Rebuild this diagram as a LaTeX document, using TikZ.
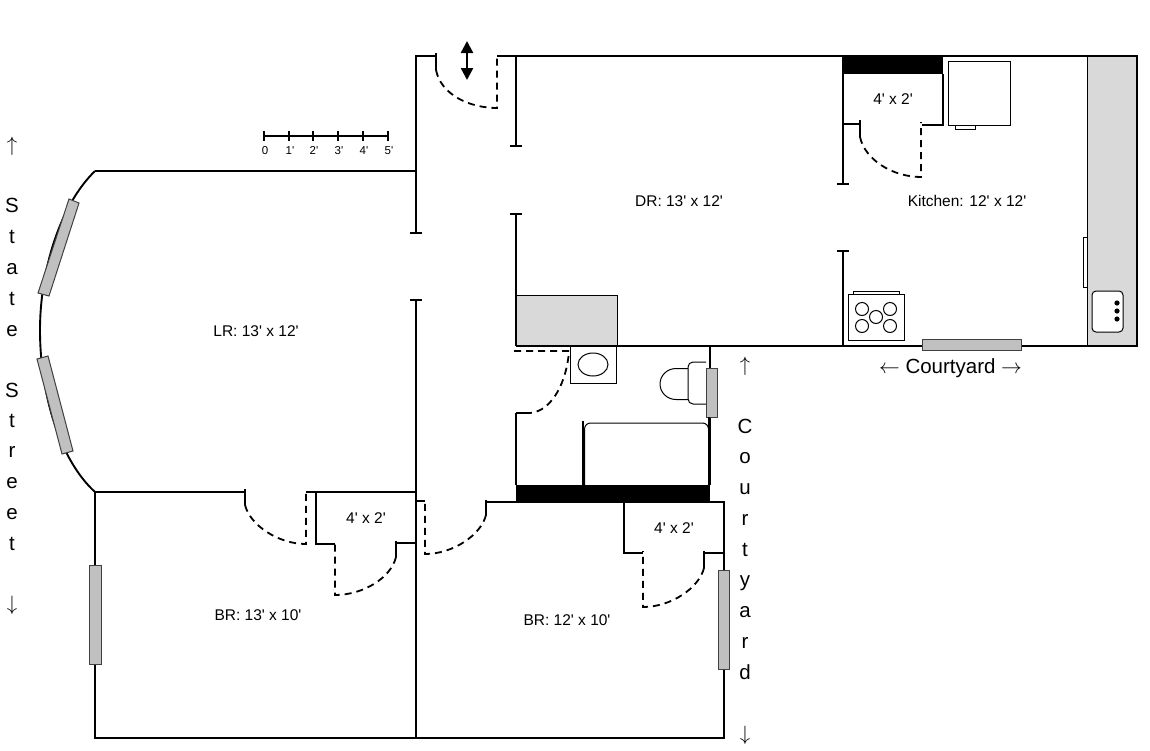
\documentclass[tikz,border=0pt]{standalone}
\usepackage{fontspec}
\usetikzlibrary{arrows.meta}
\newfontfamily\planfont{Liberation Sans}
\definecolor{countergray}{RGB}{217,217,217}
\definecolor{windowgray}{RGB}{192,192,192}
\tikzset{
  wall/.style={line width=1.9pt},
  thinline/.style={line width=1pt},
  swing/.style={line width=1.8pt, dash pattern=on 7pt off 5pt},
  counter/.style={thinline, fill=countergray},
  pane/.style={line width=1pt, draw=black!75, fill=windowgray},
  roomlabel/.style={font=\planfont\fontsize{15.5}{18}\selectfont},
  streetlabel/.style={font=\planfont\fontsize{20.5}{24}\selectfont},
  scalelabel/.style={font=\planfont\fontsize{11.5}{13}\selectfont}
}
\begin{document}
\begin{tikzpicture}[x=1pt, y=-1pt]
  \useasboundingbox[fill=white] (0,0) rectangle (1150,750);

  % Counters, the tub and the black closet blocks
  \draw[counter] (1087,56) rectangle (1137,346);
  \draw[counter] (516,295) rectangle (617,346);
  \draw[thinline, rounded corners=6pt] (584.5,423) rectangle (708.5,490);
  \fill (843,56) rectangle (943,74);
  \fill (516,485) rectangle (710,502);

  % Outer walls
  \draw[wall] (436,56) -- (416,56) -- (416,233);
  \draw[wall] (497,56) -- (1137,56) -- (1137,346) -- (516,346);
  \draw[wall] (416,171) -- (95,171);
  \draw[wall] (95,171) .. controls (60,205) and (40,270) .. (40,330)
     .. controls (40,395) and (60,460) .. (95,492);
  \draw[wall] (245,492) -- (95,492) -- (95,738) -- (724,738) -- (724,502) -- (486,502);

  % Inner walls, with their end bars
  \draw[wall] (410,233) -- (422,233);
  \draw[wall] (410,300) -- (422,300);
  \draw[wall] (416,300) -- (416,738);
  \draw[wall] (306,492) -- (416,492);
  \draw[wall] (516,56) -- (516,146);
  \draw[wall] (510,146) -- (522,146);
  \draw[wall] (510,214) -- (522,214);
  \draw[wall] (516,214) -- (516,346);
  \draw[wall] (843,56) -- (843,184);
  \draw[wall] (837,184) -- (849,184);
  \draw[wall] (837,251) -- (849,251);
  \draw[wall] (843,251) -- (843,346);
  \draw[wall] (943,74) -- (943,125) -- (922,125);
  \draw[wall] (843,124) -- (860,124);
  \draw[wall] (710,346) -- (710,485);
  \draw[wall] (516,413) -- (516,485);
  \draw[wall] (516,413) -- (530,413);
  \draw[wall] (316,492) -- (316,544) -- (335,544);
  \draw[wall] (396,543) -- (416,543);
  \draw[wall] (416,501) -- (425,501);
  \draw[wall] (624,502) -- (624,553) -- (643,553);
  \draw[wall] (704,553) -- (724,553);

  % Doors
  \draw[wall] (436,53) -- (436,70);
  \draw[swing] (436,70) .. controls (441,95) and (470,108) .. (497,108) -- (497,54);
  \draw[wall] (860,120) -- (860,137);
  \draw[swing] (860,137) .. controls (865,160) and (893,177) .. (921,177) -- (921,122);
  \draw[swing] (514,351) -- (569,351) .. controls (567,380) and (553,411) .. (530,413);
  \draw[wall] (245,489) -- (245,505);
  \draw[swing] (245,505) .. controls (250,525) and (278,544) .. (306,544) -- (306,490);
  \draw[wall] (396,541) -- (396,557);
  \draw[swing] (396,557) .. controls (391,578) and (363,595) .. (335,595) -- (335,541);
  \draw[wall] (486,500) -- (486,515);
  \draw[swing] (486,515) .. controls (481,535) and (453,554) .. (425,554) -- (425,499);
  \draw[wall] (704,551) -- (704,568);
  \draw[swing] (704,568) .. controls (699,588) and (671,607) .. (643,607) -- (643,551);

  % Entrance arrow
  \draw[line width=2.4pt, {Triangle[length=12pt,width=12pt]}-{Triangle[length=12pt,width=12pt]}] (467,41) -- (467,80);

  % Windows
  \draw[pane] (922,339) rectangle (1021,350);
  \draw[pane] (706,368) rectangle (717,417);
  \draw[pane] (718,570) rectangle (729,669);
  \draw[pane] (89,565) rectangle (101,664);
  \draw[pane] (69,199) -- (79,203) -- (49,296) -- (38,293) -- cycle;
  \draw[pane] (37,359) -- (48,356) -- (73,451) -- (62,454) -- cycle;

  % Kitchen fittings
  \draw[thinline] (948,61) rectangle (1010,125);
  \draw[thinline] (955,125) rectangle (975,129);
  \draw[thinline] (848,294) rectangle (904,340);
  \draw[thinline] (853,294) -- (853,291) -- (899,291) -- (899,294);
  \foreach \cx/\cy in {862/309, 890/309, 862/326, 890/326, 876/317}
    \draw[thinline] (\cx,\cy) circle (6.5pt);
  \draw[thinline, fill=white, rounded corners=4pt] (1092,291) rectangle (1123,332);
  \foreach \cy in {303, 311, 319}
    \fill (1117,\cy) circle (2.6pt);
  \draw[thinline, fill=white] (1083,237) rectangle (1087,287);

  % Bathroom fittings
  \draw[thinline, fill=white] (570,346) rectangle (616,383);
  \draw[thinline] (593,364.5) ellipse (15pt and 11.5pt);
  \draw[thinline, rounded corners=5pt] (706,362) -- (688,362) -- (688,404) -- (706,404);
  \draw[thinline] (688,368.5) -- (676,368.5) arc[start angle=90, end angle=270, x radius=16pt, y radius=15.5pt] -- (688,399.5);
  \draw[wall] (583,421) -- (583,485);
  \draw[wall] (709,417) -- (709,485);

  % Scale bar
  \draw[wall] (264,136) -- (388,136);
  \foreach \tx/\tname/\ttext in {264/a/0, 289/b/1', 313/c/2', 338/d/3', 363/e/4', 388/f/5'} {
    \draw[wall] (\tx,131) -- (\tx,141);
    \node[scalelabel, anchor=base] (scale\tname) at (\tx+1,154.5) {\ttext};
  }

  % Room labels
  \node[roomlabel] (lrlabel) at (256,331) {LR: 13' x 12'};
  \node[roomlabel] (drlabel) at (679,201) {DR: 13' x 12'};
  \node[roomlabel] (kitchenlabel) at (967,201) {Kitchen: 12' x 12'};
  \node[roomlabel] (closeta) at (893,99) {4' x 2'};
  \node[roomlabel] (closetb) at (366,518) {4' x 2'};
  \node[roomlabel] (closetc) at (674,528) {4' x 2'};
  \node[roomlabel] (brleft) at (258,615) {BR: 13' x 10'};
  \node[roomlabel] (brright) at (567,620) {BR: 12' x 10'};

  % Street names
  \node[streetlabel, anchor=base] (courtyardh) at (950.5,373.5) {$\leftarrow$ Courtyard $\rightarrow$};
  \foreach \ty/\tname/\ttext in {212/b/S, 243/c/t, 274/d/a, 305/e/t, 336/f/e, 397/g/S, 427/h/t, 457/i/r, 488/j/e, 519/k/e, 550/l/t}
    \node[streetlabel, anchor=base] (state\tname) at (12,\ty) {\ttext};
  \node[streetlabel] (statea) at (12,146) {$\uparrow$};
  \node[streetlabel] (statem) at (12,605) {$\downarrow$};
  \foreach \ty/\tname/\ttext in {433/b/C, 463/c/o, 494/d/u, 525/e/r, 556/f/t, 586/g/y, 617/h/a, 648/i/r, 679/j/d}
    \node[streetlabel, anchor=base] (courtyard\tname) at (745,\ty) {\ttext};
  \node[streetlabel] (courtyarda) at (745,366) {$\uparrow$};
  \node[streetlabel] (courtyardk) at (745,735) {$\downarrow$};
\end{tikzpicture}
\end{document}
